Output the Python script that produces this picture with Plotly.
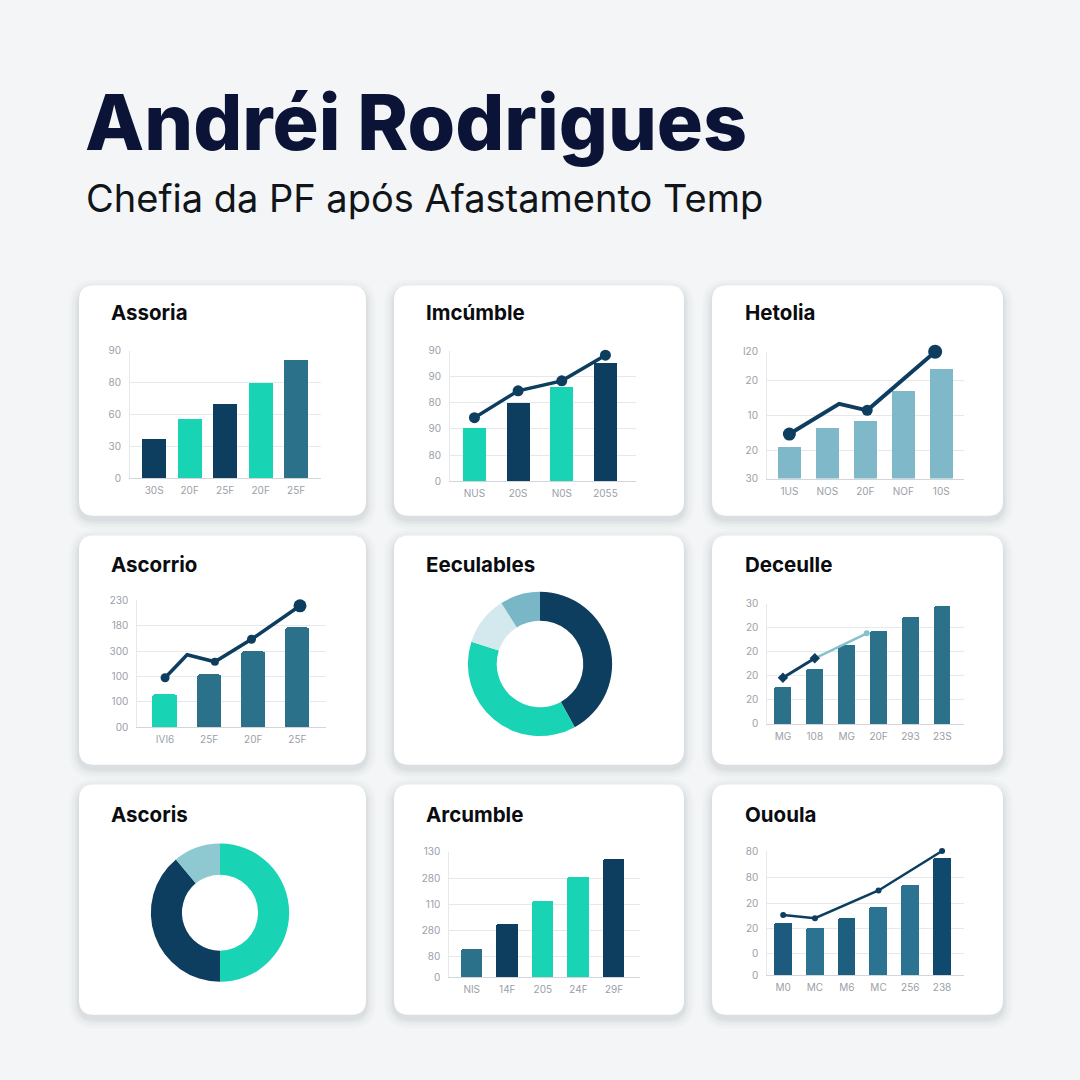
import plotly.graph_objects as go

# ---------------- data ----------------
TITLE = "Andréi Rodrigues"
SUBTITLE = "Chefia da PF após Afastamento Temp"
CARD_TITLES = ["Assoria", "Imcúmble", "Hetolia",
               "Ascorrio", "Eeculables", "Deceulle",
               "Ascoris", "Arcumble", "Ououla"]

# panel 1 - Assoria
p1_cats = ["30S", "20F", "25F", "20F", "25F"]
p1_vals = [1.24, 1.88, 2.33, 3.0, 3.73]
p1_yticks = [0, 1, 2, 3, 4]
p1_ylabels = ["0", "30", "60", "80", "90"]

# panel 2 - Imcúmble
p2_cats = ["NUS", "20S", "N0S", "2055"]
p2_vals = [2.04, 3.02, 3.62, 4.53]
p2_line = [2.43, 3.46, 3.84, 4.82]
p2_yticks = [0, 1, 2, 3, 4, 5]
p2_ylabels = ["0", "80", "90", "80", "90", "90"]

# panel 3 - Hetolia
p3_cats = ["1US", "NOS", "20F", "NOF", "10S"]
p3_vals = [25.4, 40.0, 45.2, 69.4, 86.2]
p3_line_x = [0, 1.31, 2.05, 3.84]
p3_line_y = [35.1, 58.9, 53.8, 100]
p3_yticks = [0, 22, 50, 77, 100]
p3_ylabels = ["30", "20", "10", "20", "I20"]

# panel 4 - Ascorrio
p4_cats = ["IVI6", "25F", "20F", "25F"]
p4_vals = [1.30, 2.10, 2.97, 3.95]
p4_line_x = [0, 0.5, 1.13, 1.96, 3.06]
p4_line_y = [1.95, 2.86, 2.58, 3.47, 4.79]
p4_yticks = [0, 1, 2, 3, 4, 5]
p4_ylabels = ["00", "100", "100", "300", "180", "230"]

# panel 5 - Eeculables (donut)
p5_labels = ["A", "B", "C", "D"]
p5_vals = [42, 38, 11, 9]

# panel 6 - Deceulle
p6_cats = ["MG", "108", "MG", "20F", "293", "23S"]
p6_vals = [1.54, 2.30, 3.30, 3.89, 4.47, 4.92]
p6_dark_x = [0, 1]
p6_dark_y = [1.92, 2.73]
p6_light_x = [1, 2.63]
p6_light_y = [2.73, 3.77]
p6_yticks = [0, 1, 2, 3, 4, 5]
p6_ylabels = ["0", "20", "20", "20", "20", "30"]

# panel 7 - Ascoris (donut)
p7_labels = ["A", "B", "C"]
p7_vals = [50, 39, 11]

# panel 8 - Arcumble
p8_cats = ["NIS", "14F", "205", "24F", "29F"]
p8_vals = [22.8, 42.4, 61.3, 80.4, 94.7]
p8_yticks = [0, 17, 37, 58, 79, 100]
p8_ylabels = ["0", "80", "280", "110", "280", "130"]

# panel 9 - Ououla
p9_cats = ["M0", "MC", "M6", "MC", "256", "238"]
p9_vals = [42.4, 37.6, 45.9, 54.9, 72.9, 94.1]
p9_line_x = [0, 1, 3, 5]
p9_line_y = [48.5, 45.9, 68.2, 100]
p9_yticks = [0, 17.3, 37.4, 57.9, 78.8, 100]
p9_ylabels = ["0", "0", "20", "20", "80", "80"]

# ---------------- styles ----------------
W = H = 1080
NAVY = "#0d3d5f"
TEAL = "#19d3b5"
STEEL = "#2b7189"
LSTEEL = "#7fb8c8"
PALE = "#d3e9ee"
MID = "#7ab7c6"
BG = "#f3f5f6"
FONT = "Inter"
TICK_FONT = dict(family=FONT, size=10, color="#9aa0a7")

fig = go.Figure()
axes = {}


def fx(x):
    return x / W


def fy(y):
    return 1 - y / H


def names(n):
    if n == 1:
        return "xaxis", "yaxis", "x", "y"
    return f"xaxis{n}", f"yaxis{n}", f"x{n}", f"y{n}"


def bar_panel(n, box, xr, yr, ytv, ytt, cats, vals, colors, width):
    x0, x1, yt, yb = box
    xa, ya, xr_, yr_ = names(n)
    xs = list(range(len(cats)))
    fig.add_trace(go.Bar(x=xs, y=vals, width=width, xaxis=xr_, yaxis=yr_,
                         marker=dict(color=colors, line=dict(width=0), cornerradius=2),
                         showlegend=False, hoverinfo="skip"))
    axes[xa] = dict(domain=[fx(x0), fx(x1)], range=xr, anchor=yr_,
                    tickvals=xs, ticktext=cats, showgrid=False, zeroline=False,
                    showline=True, linecolor="#d2d6da", linewidth=1, ticks="",
                    tickfont=TICK_FONT, ticklabelstandoff=3, fixedrange=True)
    axes[ya] = dict(domain=[fy(yb), fy(yt)], range=yr, anchor=xr_,
                    tickvals=ytv, ticktext=ytt, showgrid=True, gridcolor="#e6e9ec",
                    gridwidth=1, zeroline=False, showline=True, linecolor="#e6e9ec",
                    ticks="", tickfont=TICK_FONT, ticklabelstandoff=6, fixedrange=True)


def line(n, xs, ys, color, width, sizes, symbol="circle"):
    _, _, xr_, yr_ = names(n)
    fig.add_trace(go.Scatter(x=xs, y=ys, xaxis=xr_, yaxis=yr_, mode="lines+markers",
                             line=dict(color=color, width=width),
                             marker=dict(color=color, size=sizes, symbol=symbol, opacity=1,
                                         line=dict(width=0)),
                             cliponaxis=False, showlegend=False, hoverinfo="skip"))


# panel 1
bar_panel(1, (130, 321, 347.7, 477), [-0.68, 4.7], [0, 4], p1_yticks, p1_ylabels,
          p1_cats, p1_vals, [NAVY, TEAL, NAVY, TEAL, STEEL], 0.68)
# panel 2
bar_panel(2, (450, 636, 347.7, 480), [-0.56, 3.7], [0, 5], p2_yticks, p2_ylabels,
          p2_cats, p2_vals, [TEAL, NAVY, TEAL, NAVY], 0.53)
line(2, list(range(len(p2_line))), p2_line, NAVY, 3.5, 11)
# panel 3
bar_panel(3, (767, 964, 349, 477.3), [-0.59, 4.6], [0, 100], p3_yticks, p3_ylabels,
          p3_cats, p3_vals, LSTEEL, 0.6)
line(3, p3_line_x, p3_line_y, NAVY, 4, [13, 0, 11, 14])
# panel 4
bar_panel(4, (137.3, 326, 600.7, 729), [-0.63, 3.65], [0, 5], p4_yticks, p4_ylabels,
          p4_cats, p4_vals, [TEAL, STEEL, STEEL, STEEL], 0.56)
line(4, p4_line_x, p4_line_y, NAVY, 3.5, [9, 0, 8, 9, 13])
# panel 6
bar_panel(6, (767.3, 964, 604, 725.7), [-0.49, 5.68], [0, 5], p6_yticks, p6_ylabels,
          p6_cats, p6_vals, STEEL, 0.53)
line(6, p6_light_x, p6_light_y, "#86c1ce", 2.5, 0)
line(6, p6_dark_x, p6_dark_y, NAVY, 3, 8, "diamond")
# panel 8
bar_panel(8, (449.3, 640, 855, 982.3), [-0.63, 4.73], [0, 100], p8_yticks, p8_ylabels,
          p8_cats, p8_vals, [STEEL, NAVY, TEAL, TEAL, NAVY], 0.6)
# panel 9
bar_panel(9, (767.3, 964, 854.3, 980), [-0.5, 5.69], [0, 100], p9_yticks, p9_ylabels,
          p9_cats, p9_vals, ["#1c5b7d", "#2b7391", "#1e5f80", "#2a7391", "#2b7391", "#0f4a6e"], 0.56)
line(9, p9_line_x, p9_line_y, NAVY, 2.5, 6)

# donuts
fig.add_trace(go.Pie(labels=p5_labels, values=p5_vals, hole=0.6, sort=False,
                     direction="clockwise", rotation=0,
                     marker=dict(colors=[NAVY, TEAL, PALE, MID], line=dict(width=0)),
                     textinfo="none", hoverinfo="skip", showlegend=False,
                     domain=dict(x=[fx(467), fx(613)], y=[fy(738), fy(592)])))
fig.add_trace(go.Pie(labels=p7_labels, values=p7_vals, hole=0.55, sort=False,
                     direction="clockwise", rotation=0,
                     marker=dict(colors=[TEAL, NAVY, "#8ec8d0"], line=dict(width=0)),
                     textinfo="none", hoverinfo="skip", showlegend=False,
                     domain=dict(x=[fx(150), fx(290)], y=[fy(986.7), fy(846.7)])))

# ---------------- cards ----------------
shapes = []


def rrect(x0, y0, x1, y1, r):
    X0, X1 = fx(x0), fx(x1)
    Y0, Y1 = fy(y0), fy(y1)
    rx, ry = r / W, r / H
    return (f"M{X0 + rx},{Y0} L{X1 - rx},{Y0} Q{X1},{Y0} {X1},{Y0 - ry} "
            f"L{X1},{Y1 + ry} Q{X1},{Y1} {X1 - rx},{Y1} L{X0 + rx},{Y1} "
            f"Q{X0},{Y1} {X0},{Y1 + ry} L{X0},{Y0 - ry} Q{X0},{Y0} {X0 + rx},{Y0} Z")


cols = [(79, 366), (394, 684), (712, 1003)]
rows = [(282, 515), (535, 767), (787, 1020)]
for (y0, y1) in rows:
    for (x0, x1) in cols:
        for grow, alpha in [(10, 0.016), (7, 0.022), (4, 0.03), (2, 0.035)]:
            shapes.append(dict(type="path", xref="paper", yref="paper", layer="below",
                               path=rrect(x0 - grow, y0 - grow + 4, x1 + grow, y1 + grow + 4, 16 + grow),
                               fillcolor=f"rgba(30,45,60,{alpha})", line=dict(width=0)))
        shapes.append(dict(type="path", xref="paper", yref="paper", layer="below",
                           path=rrect(x0, y0, x1, y1, 15),
                           fillcolor="#ffffff", line=dict(width=0)))

# ---------------- text ----------------
ann = [
    dict(text=TITLE, x=fx(83), y=fy(116), xanchor="left", yanchor="middle",
         font=dict(family=FONT, size=77, color="#0b1437", weight=800)),
    dict(text=SUBTITLE, x=fx(84), y=fy(193), xanchor="left", yanchor="middle",
         font=dict(family=FONT, size=38, color="#111418", weight=400)),
]
title_pos = [(109, 309), (424, 309), (743, 309),
             (109, 564), (424, 564), (743, 564),
             (109, 817), (424, 817), (743, 817)]
for t, (x, y) in zip(CARD_TITLES, title_pos):
    ann.append(dict(text=t, x=fx(x), y=fy(y), xanchor="left", yanchor="middle",
                    font=dict(family=FONT, size=20.5, color="#0a0c10", weight=700)))
for a in ann:
    a.update(xref="paper", yref="paper", showarrow=False)

fig.update_layout(width=W, height=H, margin=dict(l=0, r=0, t=0, b=0),
                  paper_bgcolor=BG, plot_bgcolor="rgba(0,0,0,0)",
                  shapes=shapes, annotations=ann, showlegend=False,
                  bargap=0, **axes)

fig.write_html("out.html", config={"displayModeBar": False},
               post_script="document.body.style.margin='0';document.body.style.background='#f3f5f6';")
